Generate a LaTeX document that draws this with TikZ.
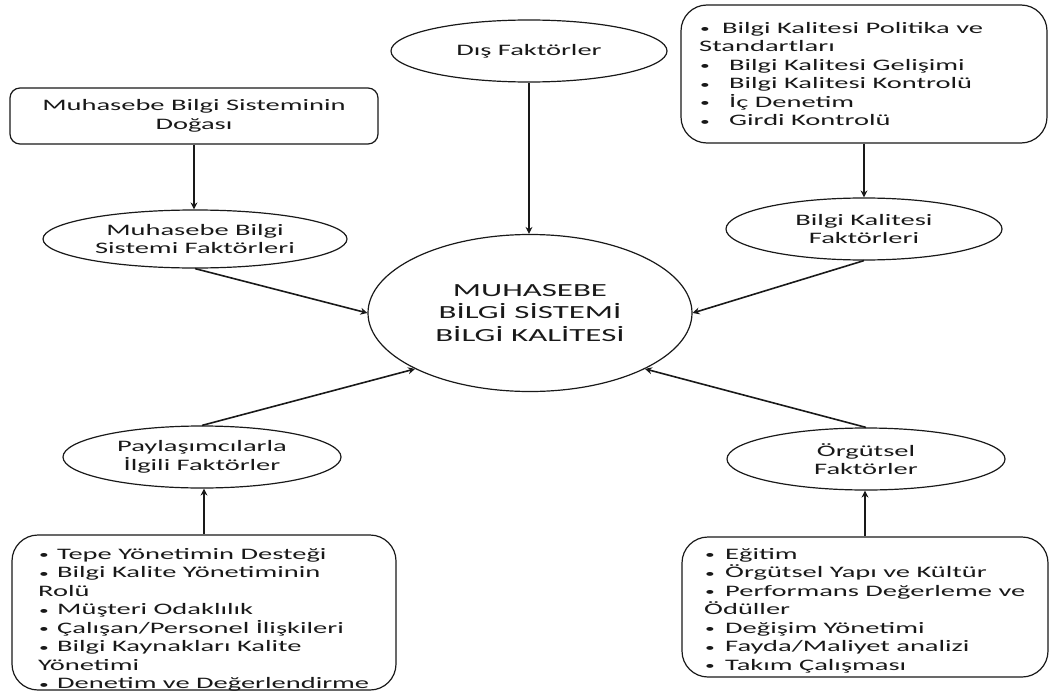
\documentclass[tikz,border=0pt]{standalone}
\usepackage{fontspec}
\setmainfont{Carlito}[FakeStretch=1.78]
\usetikzlibrary{shapes.geometric,arrows.meta}
% small bullet followed by a fixed gap before the item text
\newcommand\lbul[1]{\makebox[#1][l]{\hspace{1pt}\raisebox{0.6pt}{\fontsize{11}{11}\selectfont •}}}
\begin{document}
\begin{tikzpicture}[x=1pt,y=-1pt,
  every node/.style={font=\fontsize{16}{18.5}\selectfont, text=black!90},
  factor/.style={ellipse, draw=black!90, line width=1.2pt, inner sep=0pt, align=center},
  listbox/.style={rectangle, draw=black!90, line width=1.2pt, rounded corners=26pt, inner sep=0pt},
  listtext/.style={align=left, inner sep=0pt, anchor=north west},
  link/.style={draw=black!90, line width=1.6pt, -{Stealth[length=7pt,width=7pt]}},
  uplink/.style={link, line width=2.2pt},
  downlink/.style={link, line width=1.4pt}]
\useasboundingbox (0,0) rectangle (1049,693);

% central quality node
\node[factor, minimum width=324pt, minimum height=157pt,
      font=\fontsize{18.5}{22.5}\selectfont] (core) at (530,313)
  {MUHASEBE\\BİLGİ SİSTEMİ\\BİLGİ KALİTESİ};

% factor groups
\node[factor, minimum width=276pt, minimum height=62pt] (dis) at (529,51) {Dış Faktörler};
\node[factor, minimum width=304pt, minimum height=58pt] (mbsf) at (195,239) {Muhasebe Bilgi\\Sistemi Faktörleri};
\node[factor, minimum width=276pt, minimum height=62pt] (bkf) at (864,229) {Bilgi Kalitesi\\Faktörleri};
\node[factor, minimum width=278pt, minimum height=62pt] (pay) at (202,457) {Paylaşımcılarla\\İlgili Faktörler};
\node[factor, minimum width=278pt, minimum height=62pt] (org) at (866,459) {Örgütsel\\Faktörler};

% source boxes
\node[listbox, rounded corners=10pt, minimum width=368pt, minimum height=56pt, align=center] (doga) at (194,116)
  {Muhasebe Bilgi Sisteminin\\Doğası};

\node[listbox, minimum width=366pt, minimum height=138pt] (bkbox) at (864,74) {};
\node[listtext] (bktext) at (699,22)
  {\lbul{23pt}Bilgi Kalitesi Politika ve\\
   Standartları\\
   \lbul{30pt}Bilgi Kalitesi Gelişimi\\
   \lbul{30pt}Bilgi Kalitesi Kontrolü\\
   \lbul{30pt}İç Denetim\\
   \lbul{30pt}Girdi Kontrolü};

\node[listbox, minimum width=384pt, minimum height=155pt] (paybox) at (204,612.5) {};
\node[listtext] (paytext) at (38,548)
  {\lbul{19pt}Tepe Yönetimin Desteği\\
   \lbul{19pt}Bilgi Kalite Yönetiminin\\
   Rolü\\
   \lbul{19pt}Müşteri Odaklılık\\
   \lbul{19pt}Çalışan/Personel İlişkileri\\
   \lbul{19pt}Bilgi Kaynakları Kalite\\
   Yönetimi\\
   \lbul{19pt}Denetim ve Değerlendirme};

\node[listbox, minimum width=366pt, minimum height=140pt] (orgbox) at (865,607) {};
\node[listtext] (orgtext) at (704,548)
  {\lbul{21pt}Eğitim\\
   \lbul{21pt}Örgütsel Yapı ve Kültür\\
   \lbul{21pt}Performans Değerleme ve\\
   Ödüller\\
   \lbul{21pt}Değişim Yönetimi\\
   \lbul{21pt}Fayda/Maliyet analizi\\
   \lbul{21pt}Takım Çalışması};

% connectors
\draw[downlink] (doga.south) -- (doga.south |- mbsf.north);
\draw[downlink] (dis.south) -- (dis.south |- core.north);
\draw[downlink] (bkbox.south) -- (bkbox.south |- bkf.north);
\draw[link] (mbsf.south) -- (core.west);
\draw[link] (bkf.south) -- (core.east);
\draw[link] (pay.north) -- (core.south west);
\draw[link] (org.north) -- (core.south east);
\draw[uplink] (paybox.north) -- (paybox.north |- pay.south);
\draw[uplink] (orgbox.north) -- (orgbox.north |- org.south);
\end{tikzpicture}
\end{document}
